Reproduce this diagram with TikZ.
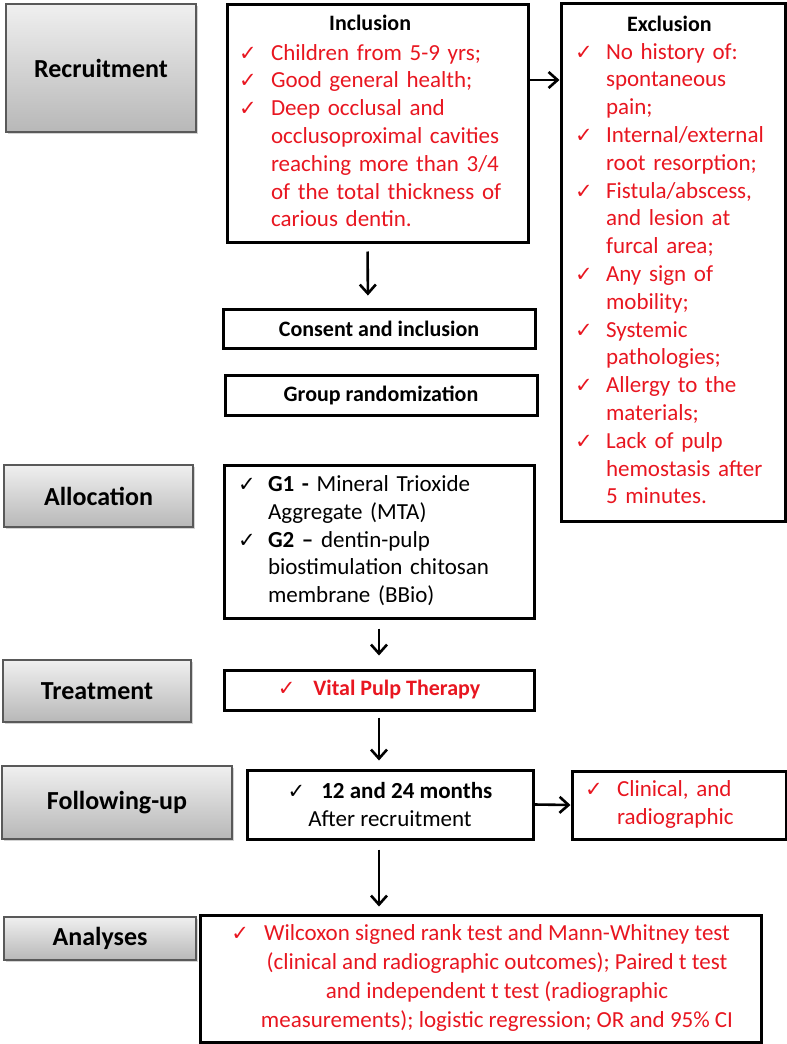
\documentclass[tikz,border=0pt]{standalone}
\usepackage{fontspec}
\usepackage{array}
\setmainfont{Carlito}
\newfontfamily\chkfont{DejaVu Sans}
\usetikzlibrary{arrows.meta,shadows}
\definecolor{itemred}{RGB}{232,22,32}
\newcommand\chk{{\chkfont\bfseries\fontsize{10.5}{10}\selectfont ✓}}

\begin{document}
\begin{tikzpicture}[x=0.5pt,y=-0.5pt,
  stage/.style={draw=black!65,line width=0.6pt,top color=black!6,bottom color=black!28,
    drop shadow={shadow xshift=1pt,shadow yshift=-1pt,opacity=0.35},
    font=\fontsize{13}{15}\selectfont\bfseries,inner sep=0pt},
  panel/.style={draw,line width=1.5pt,inner sep=0pt,font=\fontsize{11.5}{13.9}\selectfont},
  arr/.style={line width=1.3pt,-{Straight Barb[length=4.5pt,width=8pt]}}]
\useasboundingbox (0,0) rectangle (787,1044);

\node[stage,minimum width=95pt,minimum height=64pt] (rec) at (101,68) {Recruitment};
\node[stage,minimum width=94.5pt,minimum height=31pt] (alloc) at (98.5,496) {Allocation};
\node[stage,minimum width=94pt,minimum height=31pt] (treat) at (97,691) {Treatment};
\node[stage,minimum width=115pt,minimum height=36.5pt] (follow) at (117,802.5) {Following-up};
\node[stage,minimum width=96pt,minimum height=21.5pt] (anal) at (100,938.5) {Analyses};

\node[panel,minimum width=150.5pt,minimum height=119pt,text width=150.5pt,align=left] (inc) at (377.5,123) {\noindent
  \begin{tabular}{@{\hspace{6pt}}>{\leavevmode\color{itemred}}p{16pt}@{}>{\color{itemred}}l@{}}
  \multicolumn{2}{@{\hspace{6pt}}c@{}}{\fontsize{11}{13}\selectfont\bfseries Inclusion}\\[1pt]
  \chk & Children from 5-9 yrs;\\
  \chk & Good general health;\\
  \chk & Deep occlusal and\\
       & occlusoproximal cavities\\
       & reaching more than 3/4\\
       & of the total thickness of\\
       & carious dentin.
  \end{tabular}};
\node[panel,minimum width=112pt,minimum height=259pt,text width=112pt,align=left] (exc) at (673,262) {\noindent
  \begin{tabular}{@{\hspace{7pt}}>{\leavevmode\color{itemred}}p{15.5pt}@{}>{\color{itemred}}l@{}}
  \multicolumn{2}{@{\hspace{7pt}}c@{}}{\fontsize{11}{13}\selectfont\bfseries Exclusion}\\
  \chk & No history of:\\
       & spontaneous\\
       & pain;\\
  \chk & Internal/external\\
       & root resorption;\\
  \chk & Fistula/abscess,\\
       & and lesion at\\
       & furcal area;\\
  \chk & Any sign of\\
       & mobility;\\
  \chk & Systemic\\
       & pathologies;\\
  \chk & Allergy to the\\
       & materials;\\
  \chk & Lack of pulp\\
       & hemostasis after\\
       & 5 minutes.
  \end{tabular}};
\node[panel,minimum width=156pt,minimum height=19.5pt,font=\fontsize{11}{13}\selectfont\bfseries] (cons) at (379,328.5) {Consent and inclusion};
\node[panel,minimum width=156pt,minimum height=20pt,font=\fontsize{11}{13}\selectfont\bfseries] (rand) at (381,395) {Group randomization};
\node[panel,minimum width=155pt,minimum height=76.5pt,text width=155pt,align=left] (grps) at (379,541.5) {\noindent
  \begin{tabular}{@{\hspace{7pt}}p{15pt}@{}l@{}}
  \chk & \textbf{G1 -} Mineral Trioxide\\
       & Aggregate (MTA)\\
  \chk & \textbf{G2 --} dentin-pulp\\
       & biostimulation chitosan\\
       & membrane (BBio)
  \end{tabular}};
\node[panel,minimum width=155pt,minimum height=20pt,font=\fontsize{11}{13}\selectfont\bfseries,text=itemred] (vpt) at (379,690) {\chk\hspace{9pt}Vital Pulp Therapy};
\node[panel,minimum width=143pt,minimum height=34.5pt,align=center,font=\fontsize{11.5}{14}\selectfont] (mon) at (390,804.5) {\chk\hspace{8pt}\textbf{12 and 24 months}\\After recruitment};
\node[panel,minimum width=107pt,minimum height=34pt,text width=107pt,align=left,font=\fontsize{11.5}{14}\selectfont] (clin) at (679,805) {\noindent
  \begin{tabular}{@{\hspace{6.5pt}}>{\leavevmode\color{itemred}}p{16pt}@{}>{\color{itemred}}l@{}}
  \chk & Clinical, and\\
       & radiographic
  \end{tabular}};
\node[panel,minimum width=280.5pt,minimum height=63.5pt,font=\fontsize{11.5}{14.5}\selectfont] (stat) at (480.5,978.5) {%
  \begin{tabular}{@{\hspace{16.5pt}}>{\color{itemred}}c@{}}
  \llap{\chk\hspace{7.5pt}}Wilcoxon signed rank test and Mann-Whitney test\\
  (clinical and radiographic outcomes); Paired t test\\
  and independent t test (radiographic\\
  measurements); logistic regression; OR and 95\% CI
  \end{tabular}};

\coordinate (incarr) at (0,80);
\draw[arr] (inc.east |- incarr) -- (exc.west |- incarr);
\draw[arr,shorten <=4pt,shorten >=6pt] ([xshift=-5pt]inc.south) -- ([xshift=-5.5pt]cons.north);
\draw[arr,shorten <=4.5pt,shorten >=6.5pt] (grps.south) -- (vpt.north);
\draw[arr,shorten <=3pt,shorten >=4pt] (vpt.south) -- (vpt.south |- mon.north);
\draw[arr] (mon.east) -- (clin.west);
\draw[arr,shorten <=4.5pt,shorten >=3.5pt] (vpt.south |- mon.south) -- (vpt.south |- stat.north);
\end{tikzpicture}
\end{document}
